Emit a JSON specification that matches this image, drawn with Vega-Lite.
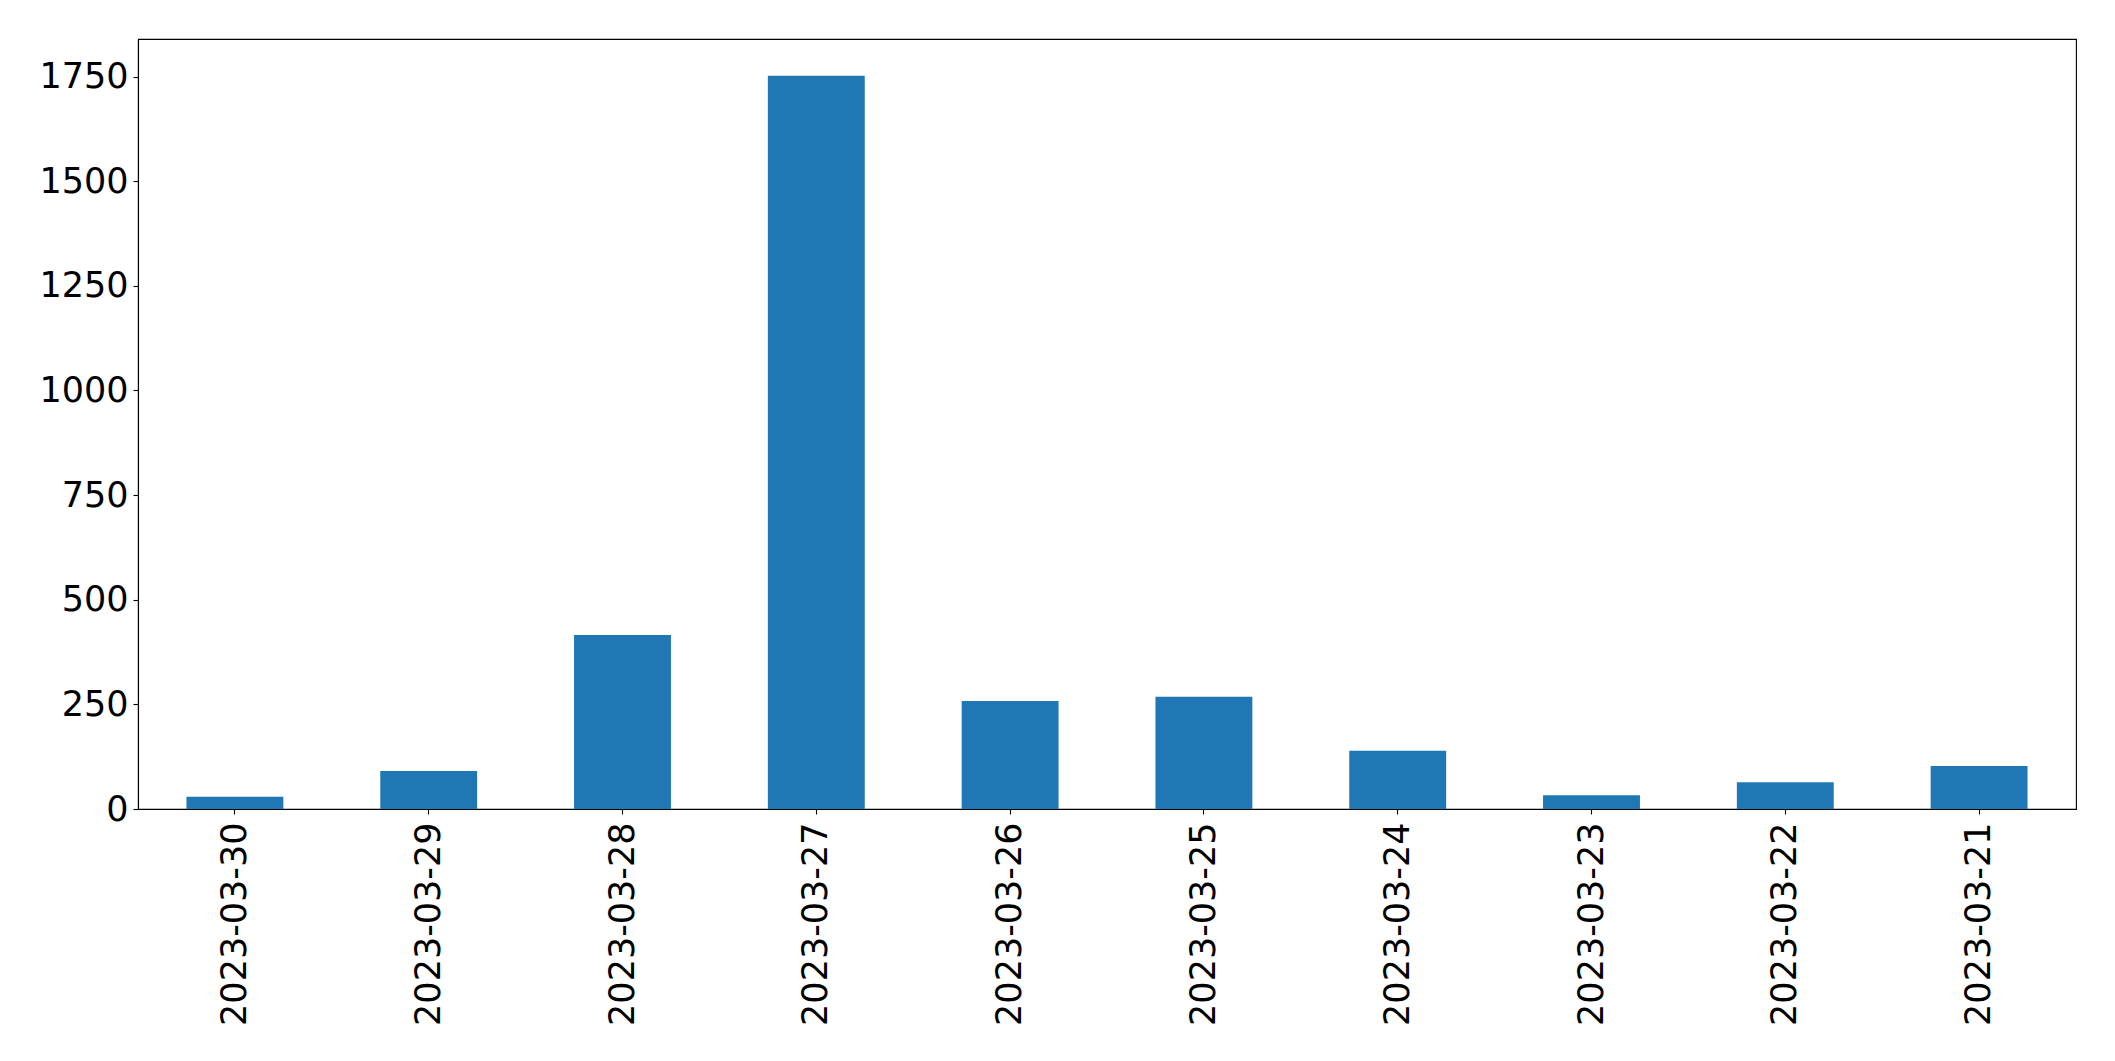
{
  "$schema": "https://vega.github.io/schema/vega-lite/v6.json",
  "autosize": {"type": "none"},
  "width": 1938,
  "height": 770,
  "padding": {"left": 138, "top": 39, "right": 39, "bottom": 252},
  "background": "white",
  "config": {
    "view": {"stroke": "black", "strokeWidth": 1.1},
    "axis": {
      "labelFont": "DejaVu Sans",
      "labelFontSize": 35,
      "labelColor": "black",
      "labelLimit": 0,
      "domainColor": "black",
      "domainWidth": 1.1,
      "tickColor": "black",
      "tickWidth": 1.1,
      "tickSize": 5,
      "grid": false,
      "title": null
    }
  },
  "data": {
    "values": [
      {"date": "2023-03-30", "count": 29},
      {"date": "2023-03-29", "count": 91},
      {"date": "2023-03-28", "count": 416},
      {"date": "2023-03-27", "count": 1752},
      {"date": "2023-03-26", "count": 258},
      {"date": "2023-03-25", "count": 268},
      {"date": "2023-03-24", "count": 139},
      {"date": "2023-03-23", "count": 33},
      {"date": "2023-03-22", "count": 64},
      {"date": "2023-03-21", "count": 103}
    ]
  },
  "mark": {"type": "bar", "color": "#1f77b4"},
  "encoding": {
    "x": {
      "field": "date",
      "type": "nominal",
      "sort": null,
      "scale": {"paddingInner": 0.5, "paddingOuter": 0.25},
      "axis": {"labelAngle": -90, "labelPadding": 8}
    },
    "y": {
      "field": "count",
      "type": "quantitative",
      "scale": {"domain": [0, 1839.6], "nice": false},
      "axis": {"values": [0, 250, 500, 750, 1000, 1250, 1500, 1750], "format": "d", "labelPadding": 5}
    }
  }
}
